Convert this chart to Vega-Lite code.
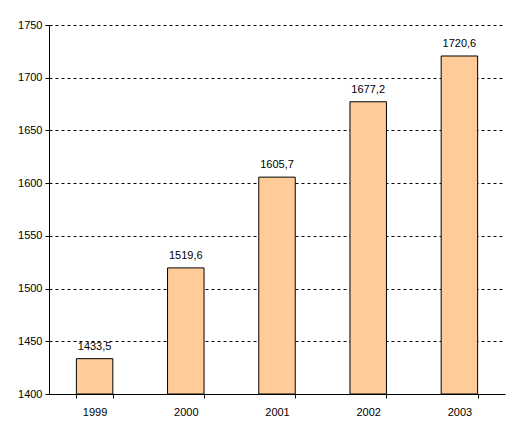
{
  "$schema": "https://vega.github.io/schema/vega-lite/v6.json",
  "width": 456,
  "height": 369,
  "autosize": "none",
  "padding": {"left": 49, "top": 25, "right": 13, "bottom": 42},
  "background": "white",
  "config": {"view": {"stroke": null}, "font": "Liberation Sans"},
  "data": {"values": [
    {"year": "1999", "value": 1433.5, "label": "1433,5"},
    {"year": "2000", "value": 1519.6, "label": "1519,6"},
    {"year": "2001", "value": 1605.7, "label": "1605,7"},
    {"year": "2002", "value": 1677.2, "label": "1677,2"},
    {"year": "2003", "value": 1720.6, "label": "1720,6"}
  ]},
  "encoding": {
    "x": {"field": "year", "type": "nominal", "title": null,
      "scale": {"paddingInner": 0.6, "paddingOuter": 0.3},
      "axis": {"labelAngle": 0, "domainColor": "black", "tickColor": "black", "tickSize": 4, "tickBand": "extent", "labelColor": "black", "labelFontSize": 11, "labelPadding": 8, "grid": false}},
    "y": {"field": "value", "type": "quantitative", "title": null,
      "scale": {"domain": [1400, 1750], "zero": false, "nice": false},
      "axis": {"values": [1400, 1450, 1500, 1550, 1600, 1650, 1700, 1750], "format": "d", "domainColor": "black", "tickColor": "black", "tickSize": 4, "labelColor": "black", "labelFontSize": 11, "labelPadding": 3, "gridColor": "black", "gridDash": [3, 3], "gridOpacity": 1, "gridWidth": 1}}
  },
  "layer": [
    {
      "mark": {"type": "bar", "fill": "#FFCC99", "stroke": "black", "strokeWidth": 1},
      "encoding": {
        "y2": {"datum": 1400}
      }
    },
    {
      "mark": {"type": "text", "dy": -12, "fontSize": 11, "color": "black"},
      "encoding": {
        "text": {"field": "label"}
      }
    }
  ]
}
